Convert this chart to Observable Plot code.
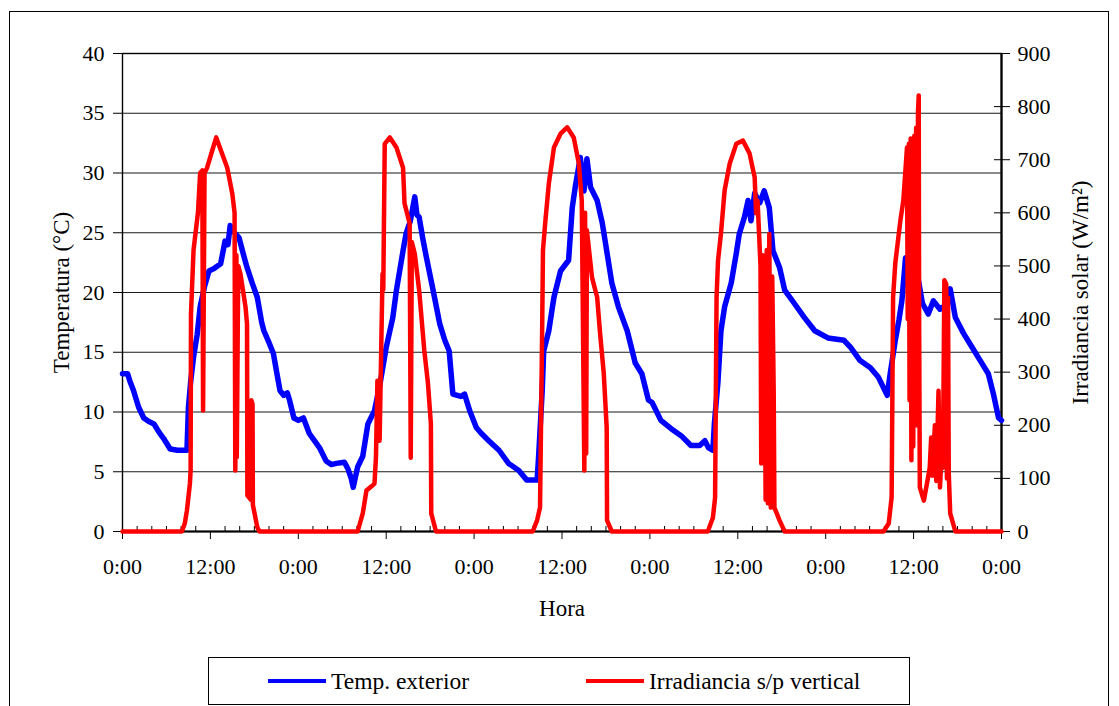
<!DOCTYPE html>
<html>
<head>
<meta charset="utf-8">
<script src="https://cdn.jsdelivr.net/npm/d3@7"></script>
<script src="https://cdn.jsdelivr.net/npm/@observablehq/plot@0.6"></script>
<style>
  html, body { margin: 0; padding: 0; background: white; }
  #wrap { position: relative; width: 1119px; height: 706px; overflow: hidden; background: white; font-family: "Liberation Serif", "Times New Roman", serif; }
  #border { position: absolute; left: 9px; top: 11px; width: 1100px; height: 720px; border: 1px solid #000; box-sizing: border-box; pointer-events: none; }
  #chart { position: absolute; left: 0; top: 0; }
  #legend { position: absolute; left: 208px; top: 657px; width: 702px; height: 48px; border: 1px solid #000; box-sizing: border-box; background: white; }
  .item { position: absolute; top: 0; height: 46px; display: flex; align-items: center; font-size: 23.5px; color: #000; white-space: nowrap; }
  .swatch { display: inline-block; width: 58px; height: 4px; margin-right: 5px; }
  .axlabel text { font-size: 23px; }
</style>
</head>
<body>
<div id="wrap">
  <div id="chart"></div>
  <div id="border"></div>
  <div id="legend">
    <div class="item" style="left:59px"><span class="swatch" style="background:#0000ff"></span>Temp. exterior</div>
    <div class="item" style="left:377px"><span class="swatch" style="background:#ff0000"></span>Irradiancia s/p vertical</div>
  </div>
</div>
<script>
// ---- Tick definitions ----
const tempTicks = [0, 5, 10, 15, 20, 25, 30, 35, 40];
const gridTemp = [5, 10, 15, 20, 25, 30, 35];
const irrTicks = [0, 100, 200, 300, 400, 500, 600, 700, 800, 900];
const majorHours = [0, 12, 24, 36, 48, 60, 72, 84, 96, 108, 120];
const majorLabels = ["0:00", "12:00", "0:00", "12:00", "0:00", "12:00", "0:00", "12:00", "0:00", "12:00", "0:00"];
const minorHours = d3.range(0, 121, 2).filter(h => h % 12 !== 0);

// ---- Temperatura exterior (hours since start, °C) ----
const tempH = [
  0, 0.7, 1.0, 1.5, 2.2, 2.9, 3.6, 4.3, 5.0, 5.6, 6.5, 7.5, 8.8, 9.0, 9.3, 9.7, 10.2, 10.6, 11.2, 11.8,
  12.5, 13.4, 14.0, 14.4, 14.7, 15.3, 15.9, 16.5, 17.0, 17.7, 18.4, 19.0, 19.3, 20.0, 20.6, 21.0, 21.5, 22.0, 22.5, 22.8, 23.4, 24.0,
  24.7, 25.5, 26.2, 26.9, 27.8, 28.5, 29.2, 30.3, 30.8, 31.2, 31.5, 32.1, 32.8, 33.5, 34.4, 35.2, 36.0, 36.9, 37.4, 38.3,
  38.7, 39.3, 39.9, 40.2, 40.5, 41.0, 41.5, 42.4, 43.3, 44.0, 44.6, 45.1, 46.2, 46.7, 47.4, 48.3,
  49.0, 50.0, 51.4, 52.7, 54.1, 55.2, 56.6, 56.8, 57.3, 57.5, 58.2, 58.9, 59.8, 60.9, 61.4, 61.8, 62.5, 63.0, 63.4, 63.9,
  64.8, 65.5, 66.1, 66.8, 67.7, 68.9, 70.0, 70.9, 71.8,
  72.3, 73.5, 74.9, 76.3, 77.6, 78.8, 79.5, 80.0, 80.6, 80.8, 81.3, 81.7, 82.2, 83.1, 83.8, 84.2, 84.9, 85.4, 85.8, 86.3,
  87.0, 87.6, 88.3, 88.8, 89.7, 90.4, 91.7, 93.1, 94.5, 96.3,
  98.5, 99.4, 100.7, 102.1, 103.2, 104.4, 104.8, 105.5, 106.0, 106.4, 106.9, 107.6, 108.5, 109.2, 110.0, 110.7, 111.6, 112.5,
  113.0, 113.7, 114.8, 116.0, 117.1, 118.2, 118.9, 119.6, 120.0
];
const tempC = [
  13.2, 13.2, 12.6, 11.8, 10.4, 9.5, 9.2, 9.0, 8.3, 7.8, 6.9, 6.8, 6.8, 10.4, 12.5, 14.6, 16.5, 18.8, 20.5, 21.8,
  22.0, 22.4, 24.3, 24.0, 25.6, 25.0, 24.6, 23.2, 22.1, 20.8, 19.6, 17.5, 16.8, 15.8, 14.9, 13.5, 11.8, 11.4, 11.6, 11.0, 9.5, 9.3,
  9.5, 8.2, 7.6, 7.0, 5.9, 5.6, 5.7, 5.8, 5.2, 4.5, 3.7, 5.4, 6.3, 9.0, 10.1, 12.5, 15.4, 17.9, 20.2, 23.5,
  24.9, 26.0, 28.0, 26.5, 26.3, 24.5, 22.9, 20.2, 17.4, 16.0, 15.1, 11.5, 11.3, 11.5, 10.1, 8.7,
  8.2, 7.6, 6.8, 5.7, 5.1, 4.3, 4.3, 6.2, 11.8, 15.1, 16.8, 19.6, 21.8, 22.7, 27.1, 28.8, 31.3, 28.5, 31.2, 28.8,
  27.7, 25.8, 23.5, 20.8, 18.8, 16.8, 14.1, 13.2, 11.0,
  10.8, 9.3, 8.6, 8.0, 7.2, 7.2, 7.6, 7.0, 6.8, 9.0, 12.6, 16.8, 18.8, 20.8, 23.3, 24.9, 26.3, 27.7, 26.0, 28.3,
  27.5, 28.5, 27.1, 23.5, 22.1, 20.2, 19.1, 17.9, 16.8, 16.2,
  16.0, 15.4, 14.3, 13.7, 12.9, 11.4, 13.2, 16.0, 17.7, 19.3, 22.9, 22.1, 21.6, 19.1, 18.2, 19.3, 18.6, 19.0,
  20.3, 17.9, 16.6, 15.4, 14.3, 13.2, 11.5, 9.5, 9.3
];

// ---- Irradiancia s/p vertical (hours since start, W/m²) ----
const irrH = [
  0, 8.1, 8.5, 8.8, 9.2, 9.3, 9.35, 9.7, 10.3, 10.6, 10.9, 11.0, 11.2, 11.55, 12.2, 12.8, 13.5, 14.3, 15.0, 15.3,
  15.4, 15.55, 15.6, 15.8, 16.1, 16.8, 17.0, 17.05, 17.5, 17.6, 17.75, 17.8, 18.4, 18.7,
  32.1, 32.8, 33.3, 34.0, 34.4, 34.6, 34.8, 35.1, 35.5, 35.6, 35.8, 36.5, 37.4, 38.3, 38.5, 39.2, 39.35, 39.5, 39.9,
  40.5, 41.2, 41.7, 42.1, 42.15, 42.8,
  56.0, 56.6, 57.0, 57.3, 57.4, 57.7, 58.2, 58.9, 59.8, 60.7, 61.6, 62.3, 62.7, 63.05, 63.15, 63.3, 63.4, 64.1, 64.8,
  65.2, 65.7, 66.1, 66.15, 66.8,
  79.9, 80.6, 80.9, 81.1, 81.3, 81.7, 82.2, 82.9, 83.8, 84.7, 85.6, 86.3, 86.5, 86.7, 87.1, 87.2, 87.4, 87.6, 87.8,
  87.95, 88.1, 88.3, 88.5, 88.7, 88.9, 89.0, 89.7, 90.4,
  103.9, 104.6, 105.0, 105.2, 105.5, 106.2, 106.6, 107.1, 107.2, 107.35, 107.45, 107.6, 107.7, 107.85, 107.95, 108.1,
  108.2, 108.35, 108.45, 108.6, 108.7, 108.75, 108.85, 109.4, 109.9, 110.2, 110.4, 110.6, 110.9, 111.1, 111.4, 111.6,
  111.8, 112.0, 112.2, 112.45, 112.55, 112.7, 112.8, 113.0, 113.7, 120
];
const irrW = [
  0, 0, 15, 40, 90, 115, 410, 530, 600, 675, 680, 228, 675, 685, 715, 742, 715, 685, 635, 600,
  115, 520, 140, 500, 485, 422, 391, 68, 60, 247, 240, 50, 8, 0,
  0, 34, 77, 85, 90, 139, 284, 171, 485, 455, 730, 742, 723, 685, 618, 580, 139, 545, 523,
  454, 341, 279, 203, 34, 0,
  0, 21, 45, 391, 529, 580, 655, 723, 749, 761, 742, 693, 623, 115, 600, 147, 567, 478, 441,
  373, 298, 196, 21, 0,
  0, 26, 64, 441, 510, 561, 642, 693, 730, 736, 712, 667, 599, 623, 500, 128, 520, 492, 60,
  530, 53, 560, 45, 480, 265, 45, 21, 0,
  0, 15, 64, 441, 505, 586, 623, 723, 400, 730, 247, 740, 134, 700, 160, 745,
  300, 760, 200, 790, 821, 420, 83, 58, 96, 120, 177, 105, 200, 95, 265, 83,
  140, 120, 473, 466, 100, 440, 109, 34, 0, 0
];

const tempData = tempH.map((h, i) => ({h, v: tempC[i]}));
const irrData = irrH.map((h, i) => ({h, v: irrW[i]}));
const k = 40 / 900; // irradiance -> left-axis units

const chart = Plot.plot({
  width: 1119,
  height: 640,
  marginLeft: 122,
  marginRight: 118,
  marginTop: 53,
  marginBottom: 109,
  style: {fontFamily: "Liberation Serif, Times New Roman, serif", fontSize: "22px", background: "transparent", color: "#000", overflow: "visible"},
  x: {domain: [0, 120]},
  y: {domain: [0, 40]},
  marks: [
    Plot.ruleY(gridTemp, {stroke: "#1a1a1a", strokeWidth: 1.2}),
    Plot.frame({stroke: "#000", strokeWidth: 1.4}),
    Plot.axisY(tempTicks, {anchor: "left", tickSize: 9, tickPadding: 9, tickFormat: d => String(d), label: "Temperatura (°C)", labelAnchor: "center", labelOffset: 70, labelArrow: "none"}),
    Plot.axisY(irrTicks.map(v => v * k), {anchor: "right", tickSize: 8, tickPadding: 8, tickFormat: d => String(Math.round(d / k)), label: "Irradiancia solar (W/m²)", labelAnchor: "center", labelOffset: 86, labelArrow: "none"}),
    Plot.axisY(irrTicks.map(v => v * k), {anchor: "right", tickSize: -8, tickFormat: () => "", label: null}),
    Plot.axisX(majorHours, {anchor: "bottom", tickSize: 8, tickPadding: 19, tickFormat: h => majorLabels[majorHours.indexOf(h)], label: "Hora", labelAnchor: "center", labelOffset: 84, labelArrow: "none"}),
    Plot.axisX(minorHours, {anchor: "bottom", tickSize: -5, tickFormat: () => "", label: null}),
    Plot.ruleY([0], {stroke: "#000", strokeWidth: 2.2}),
    Plot.ruleX([120], {stroke: "#000", strokeWidth: 2.2}),
    Plot.line(tempData, {x: "h", y: "v", stroke: "#0000ff", strokeWidth: 5.5}),
    Plot.line(irrData, {x: "h", y: d => d.v * k, stroke: "#ff0000", strokeWidth: 4.5})
  ]
});
// enlarge axis titles slightly
chart.querySelectorAll("g[aria-label$='axis label'] text, g[aria-label='x-axis label'] text, g[aria-label='y-axis label'] text").forEach(t => t.style.fontSize = "23px");
document.getElementById("chart").appendChild(chart);
</script>
</body>
</html>
